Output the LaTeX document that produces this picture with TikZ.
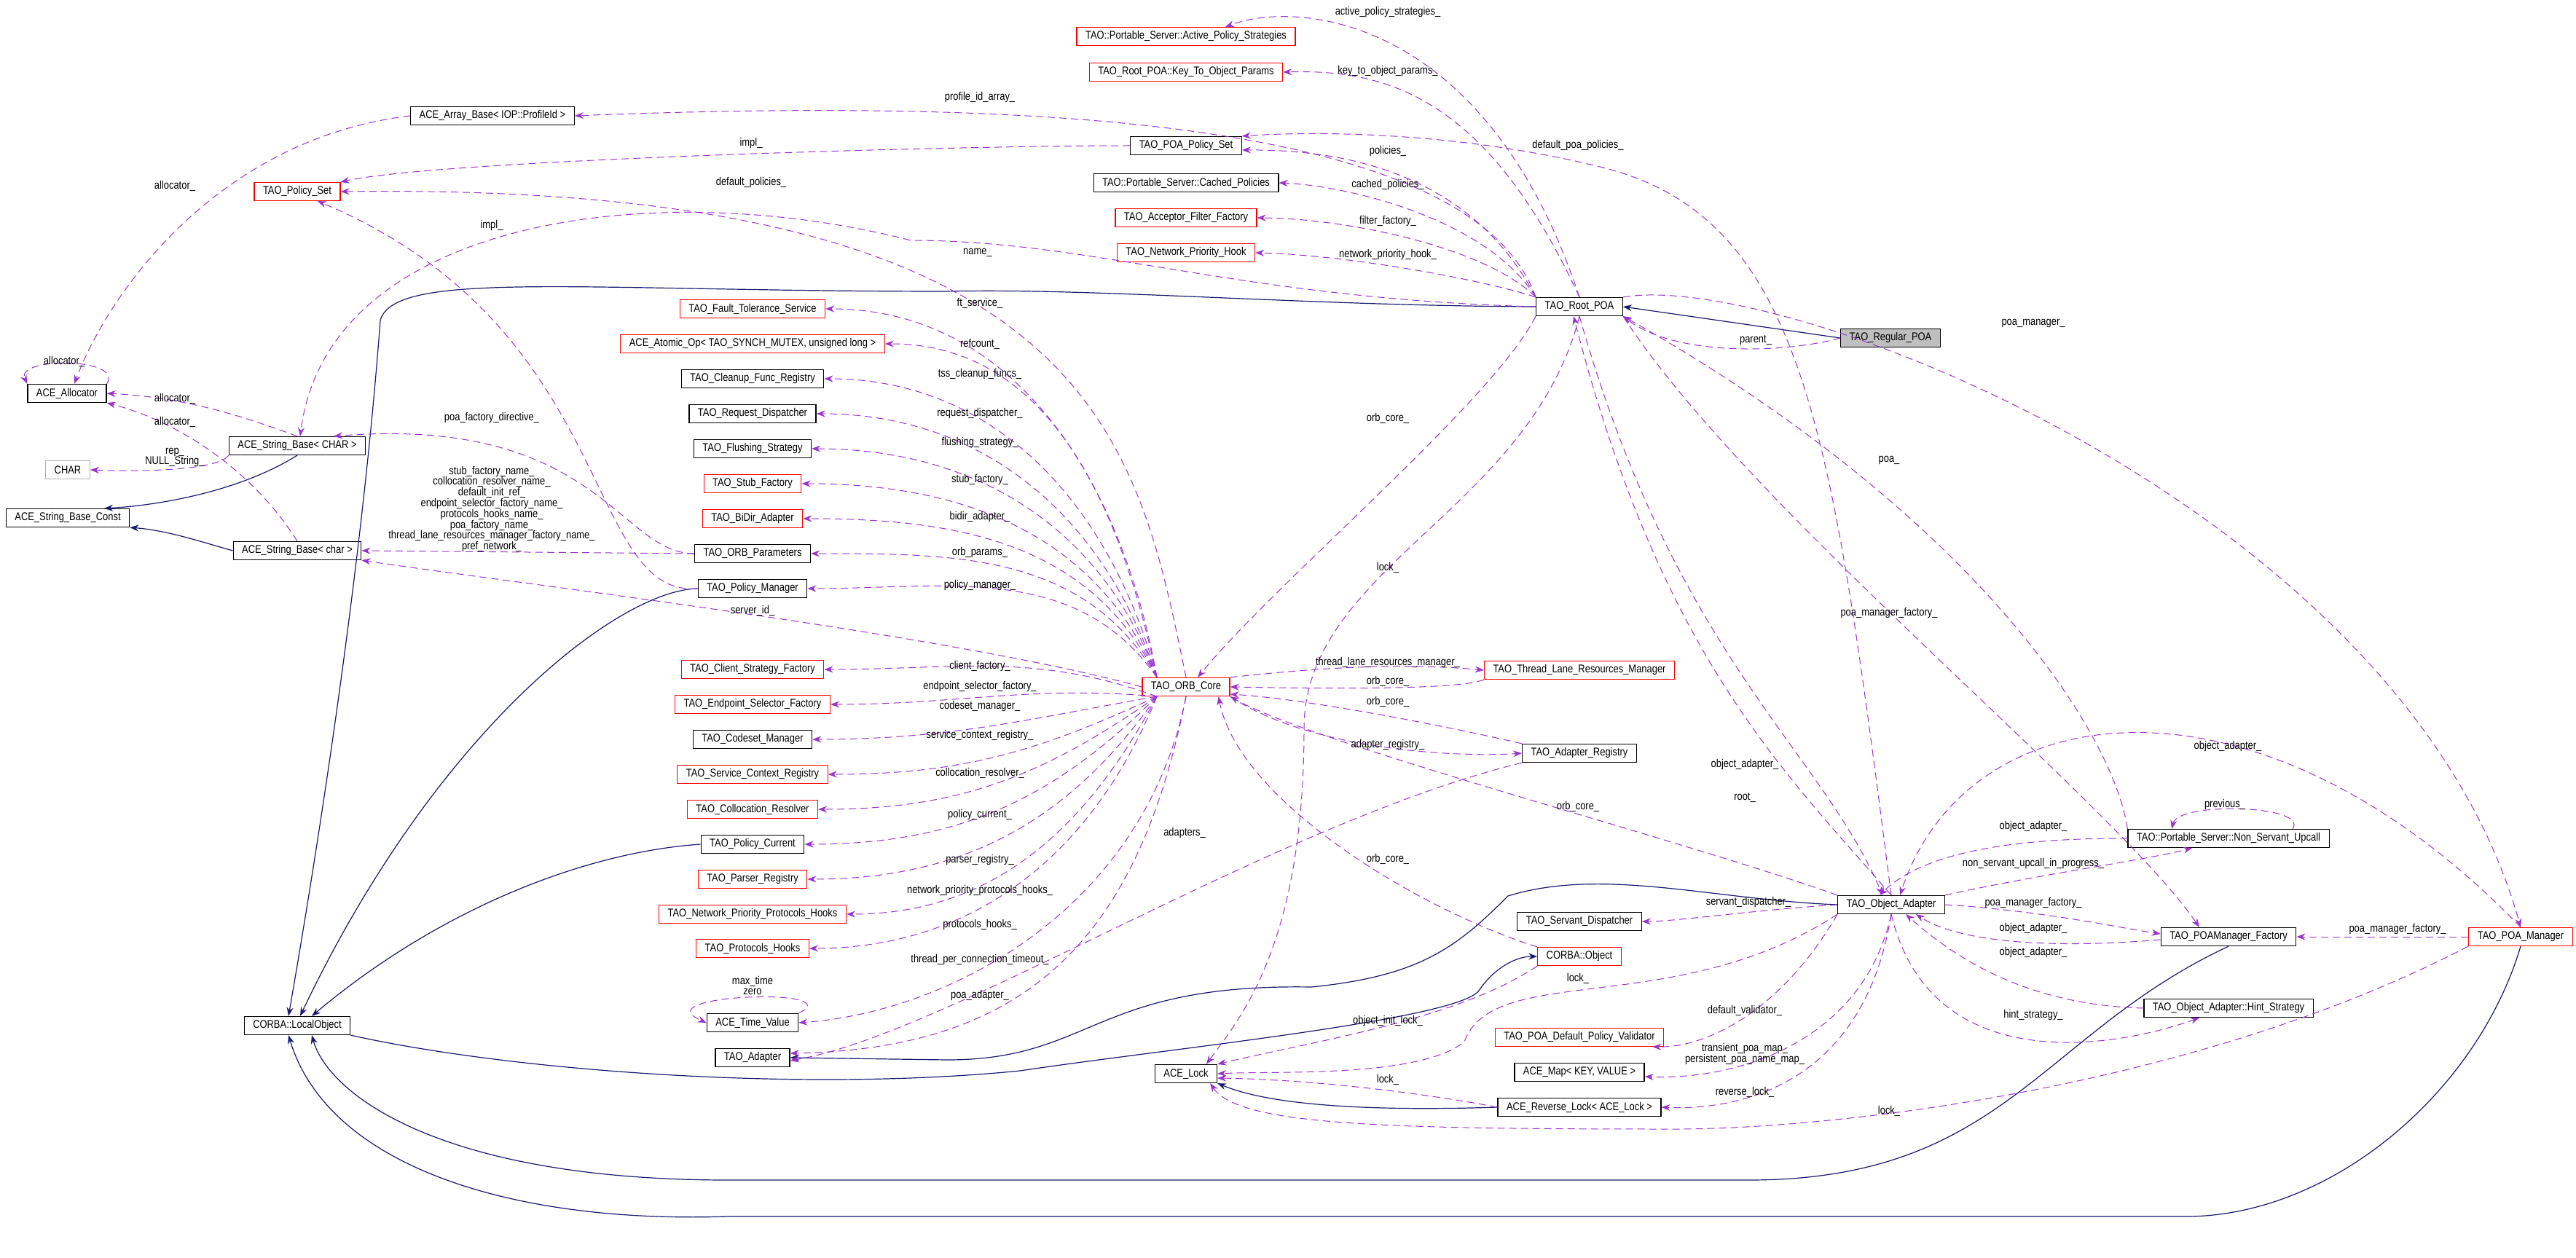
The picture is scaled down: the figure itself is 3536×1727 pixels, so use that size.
\documentclass[tikz,border=0pt]{standalone}
\usepackage{fontspec}
\setmainfont{Liberation Sans}[FakeStretch=0.84]
\usetikzlibrary{arrows.meta}
\definecolor{pu}{HTML}{9A32CD}
\definecolor{nv}{HTML}{191970}
\tikzset{
 box/.style={draw=black,line width=0.6pt,minimum height=12.5pt,inner xsep=6pt,inner ysep=0pt,font=\fontsize{7.7}{8}\selectfont,fill=white},
 rbox/.style={box,draw=red},
 gbox/.style={box,fill=black!25},
 cbox/.style={box,draw=black!30},
 lbl/.style={inner sep=0pt,align=center,font=\fontsize{7.7}{7.4}\selectfont},
 dep/.style={draw=pu,dash pattern=on 5pt off 3pt,line width=0.5pt,-{Stealth[length=6pt,width=4.5pt,fill=pu]}},
 inh/.style={draw=nv,line width=0.6pt,-{Stealth[length=6pt,width=4.5pt,fill=nv]}},
}
\newcommand\elab[4]{\node[lbl] (#1) at (#2,#3) {#4};}
\begin{document}
\begin{tikzpicture}[x=0.5pt,y=-0.5pt]
\useasboundingbox[fill=white] (0,0) rectangle (3536,1727);
% nodes
\node[gbox] (regular) at (2595,464) {TAO\_Regular\_POA};
\node[box] (root) at (2168,421) {TAO\_Root\_POA};
\node[rbox] (aps) at (1628,50) {TAO::Portable\_Server::Active\_Policy\_Strategies};
\node[rbox] (ktop) at (1628,99) {TAO\_Root\_POA::Key\_To\_Object\_Params};
\node[box] (arrb) at (676,159) {ACE\_Array\_Base< IOP::ProfileId >};
\node[box] (poaps) at (1628,200) {TAO\_POA\_Policy\_Set};
\node[rbox] (pset) at (408,263) {TAO\_Policy\_Set};
\node[box] (cached) at (1628,251) {TAO::Portable\_Server::Cached\_Policies};
\node[rbox] (aff) at (1628,299) {TAO\_Acceptor\_Filter\_Factory};
\node[rbox] (nph) at (1628,347) {TAO\_Network\_Priority\_Hook};
\node[rbox] (fts) at (1033,424) {TAO\_Fault\_Tolerance\_Service};
\node[rbox] (atomic) at (1033,472) {ACE\_Atomic\_Op< TAO\_SYNCH\_MUTEX, unsigned long >};
\node[box] (cleanup) at (1033,520) {TAO\_Cleanup\_Func\_Registry};
\node[box] (reqd) at (1033,568) {TAO\_Request\_Dispatcher};
\node[box] (flush) at (1033,616) {TAO\_Flushing\_Strategy};
\node[rbox] (stubf) at (1033,664) {TAO\_Stub\_Factory};
\node[rbox] (bidir) at (1033,712) {TAO\_BiDir\_Adapter};
\node[box] (orbp) at (1033,760) {TAO\_ORB\_Parameters};
\node[box] (polm) at (1033,808) {TAO\_Policy\_Manager};
\node[box] (alloc) at (92,540) {ACE\_Allocator};
\node[box] (sbCHAR) at (408,612) {ACE\_String\_Base< CHAR >};
\node[cbox] (char) at (93,645) {CHAR};
\node[box] (sbconst) at (93,711) {ACE\_String\_Base\_Const};
\node[box] (sbchar) at (408,756) {ACE\_String\_Base< char >};
\node[rbox] (csf) at (1033,919) {TAO\_Client\_Strategy\_Factory};
\node[rbox] (esf) at (1033,967) {TAO\_Endpoint\_Selector\_Factory};
\node[box] (codeset) at (1033,1015) {TAO\_Codeset\_Manager};
\node[rbox] (scr) at (1033,1063) {TAO\_Service\_Context\_Registry};
\node[rbox] (colres) at (1033,1111) {TAO\_Collocation\_Resolver};
\node[box] (polc) at (1033,1159) {TAO\_Policy\_Current};
\node[rbox] (parser) at (1033,1207) {TAO\_Parser\_Registry};
\node[rbox] (npph) at (1033,1255) {TAO\_Network\_Priority\_Protocols\_Hooks};
\node[rbox] (proth) at (1033,1302) {TAO\_Protocols\_Hooks};
\node[box] (timev) at (1033,1404) {ACE\_Time\_Value};
\node[box] (adapter) at (1033,1452) {TAO\_Adapter};
\node[box] (local) at (408,1408) {CORBA::LocalObject};
\node[rbox] (orbcore) at (1628,943) {TAO\_ORB\_Core};
\node[rbox] (tlrm) at (2168,920) {TAO\_Thread\_Lane\_Resources\_Manager};
\node[box] (areg) at (2168,1034) {TAO\_Adapter\_Registry};
\node[box] (sdisp) at (2168,1265) {TAO\_Servant\_Dispatcher};
\node[rbox] (cobj) at (2168,1313) {CORBA::Object};
\node[rbox] (pdpv) at (2168,1424) {TAO\_POA\_Default\_Policy\_Validator};
\node[box] (map) at (2168,1472) {ACE\_Map< KEY, VALUE >};
\node[box] (rlock) at (2168,1520) {ACE\_Reverse\_Lock< ACE\_Lock >};
\node[box] (acelock) at (1628,1474) {ACE\_Lock};
\node[box] (oa) at (2596,1242) {TAO\_Object\_Adapter};
\node[box] (nsu) at (3059,1151) {TAO::Portable\_Server::Non\_Servant\_Upcall};
\node[box] (pmf) at (3059,1286) {TAO\_POAManager\_Factory};
\node[box] (hint) at (3059,1384) {TAO\_Object\_Adapter::Hint\_Strategy};
\node[rbox] (poam) at (3460,1286) {TAO\_POA\_Manager};

% inheritance
\draw[inh] (regular.west) -- (root.east);
\draw[inh] (root.west) .. controls (1800,420) and (1500,395) .. (1300,400) .. controls (800,400) and (540,370) .. (522,440) .. controls (495,800) and (430,1200) .. ([xshift=-6pt]local.north);
\draw[inh] (polm.west) .. controls (850,810) and (600,1000) .. ([xshift=2pt]local.north);
\draw[inh] (polc.west) .. controls (800,1170) and (600,1250) .. ([xshift=10pt]local.north);
\draw[inh] (local.south east) .. controls (700,1470) and (1100,1500) .. (1400,1470) .. controls (1600,1440) and (2000,1400) .. (2030,1360) .. controls (2050,1330) and (2080,1313) .. (cobj.west);
\draw[inh] (oa.west) .. controls (2350,1235) and (2200,1190) .. (2070,1230) .. controls (2000,1300) and (1950,1340) .. (1800,1355) .. controls (1500,1350) and (1500,1455) .. (1300,1455) -- (adapter.east);
\draw[inh] (rlock.west) .. controls (1900,1525) and (1750,1520) .. (acelock.south east);
\draw[inh] (sbCHAR.south) .. controls (320,680) and (200,695) .. ([xshift=25pt]sbconst.north);
\draw[inh] (sbchar.west) .. controls (280,745) and (230,728) .. (sbconst.south east);
\draw[inh] (pmf.south) .. controls (2800,1420) and (2750,1620) .. (2400,1620) -- (1000,1620) .. controls (600,1620) and (450,1500) .. ([xshift=10pt]local.south);
\draw[inh] (poam.south) .. controls (3400,1500) and (3200,1670) .. (3000,1670) -- (1000,1670) .. controls (700,1680) and (450,1600) .. ([xshift=-6pt]local.south);

% Root POA deps
\draw[dep] (regular.west) .. controls (2450,485) and (2300,490) .. (root.south east);
\draw[dep] (root.north) .. controls (2040,20) and (1780,0) .. ([xshift=27pt]aps.north);
\draw[dep] (root.north) .. controls (2040,130) and (1900,95) .. (ktop.east);
\draw[dep] (root.north west) .. controls (2020,160) and (1400,135) .. (arrb.east);
\draw[dep] (root.north west) .. controls (2020,240) and (1850,205) .. ([yshift=-3pt]poaps.east);
\draw[dep] (root.north west) .. controls (2040,300) and (1850,255) .. (cached.east);
\draw[dep] (root.north west) .. controls (2040,340) and (1850,300) .. (aff.east);
\draw[dep] (root.north west) .. controls (2040,385) and (1850,350) .. (nph.east);
\draw[dep] (root.west) .. controls (1700,410) and (1500,330) .. (1250,330) .. controls (900,240) and (450,300) .. ([xshift=2pt]sbCHAR.north);
\draw[dep] (root.south west) .. controls (2050,550) and (1750,800) .. ([xshift=8pt]orbcore.north);
\draw[dep] (root.south) .. controls (2100,700) and (1790,780) .. (1790,1000) .. controls (1790,1300) and (1700,1400) .. ([xshift=14pt]acelock.north);
\draw[dep] (root.north east) .. controls (2450,370) and (3300,700) .. (poam.north);
\draw[dep] (root.south) .. controls (2300,900) and (2500,1030) .. ([xshift=-6pt]oa.north);
\draw[dep] (oa.north) .. controls (2450,1060) and (2280,900) .. ([xshift=-4pt]root.south);
\draw[dep] (root.south east) .. controls (2400,700) and (2900,1100) .. ([xshift=-20pt]pmf.north);
\draw[dep] (nsu.north west) .. controls (2900,1000) and (2700,700) .. (root.south east);
\draw[dep] (oa.north) .. controls (2515,600) and (2480,300) .. (2200,230) .. controls (2000,180) and (1800,180) .. (poaps.north east);

% left cluster
\draw[dep] (arrb.west) .. controls (300,190) and (150,400) .. ([xshift=5pt]alloc.north);
\draw[dep] (alloc.north east) .. controls (170,490) and (20,490) .. (alloc.north west);
\draw[dep] (sbCHAR.north) .. controls (330,570) and (250,545) .. (alloc.east);
\draw[dep] (sbchar.north) .. controls (350,650) and (250,580) .. (alloc.south east);
\draw[dep] (sbCHAR.south west) .. controls (300,645) and (200,648) .. (char.east);
\draw[dep] (polm.west) .. controls (800,820) and (850,450) .. ([xshift=14pt]pset.south);
\draw[dep] (poaps.west) .. controls (1300,200) and (600,220) .. (pset.north east);
\draw[dep] (orbcore.north) .. controls (1560,600) and (1500,250) .. (pset.east);
\draw[dep] (orbp.west) .. controls (850,760) and (820,570) .. ([xshift=25pt]sbCHAR.north);
\draw[dep] (orbp.west) -- (sbchar.east);
\draw[dep] (orbcore.west) .. controls (1300,870) and (700,800) .. (sbchar.south east);

% ORB core fan
\foreach \t/\o in {fts/100,atomic/102,cleanup/105,reqd/108,flush/110,stubf/113,bidir/116,orbp/120,polm/125}
  \draw[dep] ([xshift=-20pt]orbcore.north) to[out=\o,in=0] (\t.east);
\foreach \t/\o in {csf/160,esf/175,codeset/190,scr/205,colres/215,polc/225,parser/235,npph/242,proth/248}
  \draw[dep] ([xshift=-20pt]orbcore.south) to[out=\o,in=0] (\t.east);
\draw[dep] (orbcore.south) .. controls (1570,1250) and (1300,1390) .. (timev.east);
\draw[dep] (orbcore.south) .. controls (1560,1300) and (1400,1440) .. ([yshift=3pt]adapter.east);
\draw[dep] (timev.north east) .. controls (1170,1355) and (880,1365) .. (timev.west);
\draw[dep] (orbcore.south east) .. controls (1800,1030) and (2000,1040) .. (areg.west);
\draw[dep] (areg.north west) .. controls (2000,1000) and (1800,960) .. ([yshift=-5pt]orbcore.east);
\draw[dep] (orbcore.north east) .. controls (1850,912) and (1950,912) .. (tlrm.west);
\draw[dep] (tlrm.south west) .. controls (2000,948) and (1800,945) .. (orbcore.east);
\draw[dep] (areg.south west) .. controls (1750,1130) and (1300,1420) .. ([yshift=-2pt]adapter.east);
\draw[dep] (cobj.north west) .. controls (1950,1250) and (1700,1100) .. ([xshift=-8pt]orbcore.south east);
\draw[dep] (oa.north west) .. controls (2300,1150) and (1800,1020) .. (orbcore.south east);
\draw[dep] (cobj.south west) .. controls (2000,1400) and (1800,1430) .. (acelock.north east);
\draw[dep] (oa.south west) .. controls (2300,1400) and (2050,1320) .. (2010,1430) .. controls (1950,1480) and (1750,1470) .. (acelock.east);
\draw[dep] (rlock.west) .. controls (1950,1500) and (1800,1482) .. ([yshift=-3pt]acelock.east);
\draw[dep] (poam.south west) .. controls (3000,1500) and (2500,1550) .. (2300,1550) .. controls (1900,1550) and (1700,1545) .. ([xshift=-5pt]acelock.south east);

% object adapter
\draw[dep] (oa.west) .. controls (2400,1250) and (2300,1265) .. (sdisp.east);
\draw[dep] (oa.south west) .. controls (2450,1380) and (2350,1438) .. ([xshift=-8pt]pdpv.south east);
\draw[dep] (oa.south) .. controls (2560,1420) and (2400,1483) .. ([yshift=-3pt]map.east);
\draw[dep] (oa.south) .. controls (2560,1480) and (2400,1525) .. (rlock.east);
\draw[dep] (oa.north east) .. controls (2800,1200) and (2950,1180) .. ([xshift=-25pt]nsu.south);
\draw[dep] (nsu.west) .. controls (2700,1150) and (2620,1190) .. ([xshift=-8pt]oa.north);
\draw[dep] ([xshift=44pt]nsu.north) .. controls (3170,1105) and (2990,1100) .. ([xshift=-39pt]nsu.north);
\draw[dep] (poam.north) .. controls (3100,900) and (2700,950) .. ([xshift=6pt]oa.north);
\draw[dep] (oa.east) .. controls (2800,1250) and (2900,1272) .. ([yshift=2pt]pmf.west);
\draw[dep] ([yshift=-2pt]pmf.west) .. controls (2850,1300) and (2700,1300) .. ([xshift=-20pt]oa.south east);
\draw[dep] (hint.west) .. controls (2800,1380) and (2700,1330) .. ([xshift=10pt]oa.south);
\draw[dep] (oa.south) .. controls (2650,1480) and (2900,1440) .. ([xshift=-20pt]hint.south);
\draw[dep] (poam.west) -- (pmf.east);

% labels
\elab{l1}{1905}{17}{active\_policy\_strategies\_}
\elab{l2}{1905}{98}{key\_to\_object\_params\_}
\elab{l3}{1345}{134}{profile\_id\_array\_}
\elab{l4}{1031}{197}{impl\_}
\elab{l5}{2166}{200}{default\_poa\_policies\_}
\elab{l6}{1905}{208}{policies\_}
\elab{l7}{1031}{251}{default\_policies\_}
\elab{l8}{1905}{254}{cached\_policies\_}
\elab{l9}{240}{255}{allocator\_}
\elab{l10}{1905}{304}{filter\_factory\_}
\elab{l11}{675}{310}{impl\_}
\elab{l12}{1342}{347}{name\_}
\elab{l13}{1905}{350}{network\_priority\_hook\_}
\elab{l14}{1345}{416}{ft\_service\_}
\elab{l15}{2791}{444}{poa\_manager\_}
\elab{l16}{2410}{467}{parent\_}
\elab{l17}{1345}{472}{refcount\_}
\elab{l18}{88}{496}{allocator\_}
\elab{l19}{1345}{514}{tss\_cleanup\_funcs\_}
\elab{l20}{240}{547}{allocator\_}
\elab{l21}{1345}{568}{request\_dispatcher\_}
\elab{l22}{675}{574}{poa\_factory\_directive\_}
\elab{l23}{1905}{574}{orb\_core\_}
\elab{l24}{240}{579}{allocator\_}
\elab{l25}{1345}{608}{flushing\_strategy\_}
\elab{l26}{240}{628}{rep\_\\NULL\_String\_}
\elab{l27}{2593}{632}{poa\_}
\elab{l28}{1345}{659}{stub\_factory\_}
\elab{l29}{675}{699}{stub\_factory\_name\_\\collocation\_resolver\_name\_\\default\_init\_ref\_\\endpoint\_selector\_factory\_name\_\\protocols\_hooks\_name\_\\poa\_factory\_name\_\\thread\_lane\_resources\_manager\_factory\_name\_\\pref\_network\_}
\elab{l30}{1345}{710}{bidir\_adapter\_}
\elab{l31}{1345}{759}{orb\_params\_}
\elab{l32}{1905}{779}{lock\_}
\elab{l33}{1345}{804}{policy\_manager\_}
\elab{l34}{1033}{838}{server\_id\_}
\elab{l35}{2593}{842}{poa\_manager\_factory\_}
\elab{l36}{1905}{910}{thread\_lane\_resources\_manager\_}
\elab{l37}{1345}{915}{client\_factory\_}
\elab{l38}{1905}{935}{orb\_core\_}
\elab{l39}{1345}{943}{endpoint\_selector\_factory\_}
\elab{l40}{1905}{963}{orb\_core\_}
\elab{l41}{1345}{970}{codeset\_manager\_}
\elab{l42}{1345}{1010}{service\_context\_registry\_}
\elab{l43}{1905}{1023}{adapter\_registry\_}
\elab{l44}{3058}{1025}{object\_adapter\_}
\elab{l45}{2395}{1050}{object\_adapter\_}
\elab{l46}{1345}{1061}{collocation\_resolver\_}
\elab{l47}{2395}{1095}{root\_}
\elab{l48}{3054}{1105}{previous\_}
\elab{l49}{2166}{1107}{orb\_core\_}
\elab{l50}{1345}{1119}{policy\_current\_}
\elab{l51}{2791}{1135}{object\_adapter\_}
\elab{l52}{1626}{1144}{adapters\_}
\elab{l53}{1905}{1179}{orb\_core\_}
\elab{l54}{1345}{1181}{parser\_registry\_}
\elab{l55}{2791}{1186}{non\_servant\_upcall\_in\_progress\_}
\elab{l56}{1345}{1223}{network\_priority\_protocols\_hooks\_}
\elab{l57}{2400}{1239}{servant\_dispatcher\_}
\elab{l58}{2791}{1240}{poa\_manager\_factory\_}
\elab{l59}{1345}{1270}{protocols\_hooks\_}
\elab{l60}{2791}{1275}{object\_adapter\_}
\elab{l61}{3291}{1276}{poa\_manager\_factory\_}
\elab{l62}{2791}{1308}{object\_adapter\_}
\elab{l63}{1345}{1318}{thread\_per\_connection\_timeout\_}
\elab{l64}{2166}{1343}{lock\_}
\elab{l65}{1033}{1353}{max\_time\\zero}
\elab{l66}{1345}{1367}{poa\_adapter\_}
\elab{l67}{2395}{1387}{default\_validator\_}
\elab{l68}{2791}{1394}{hint\_strategy\_}
\elab{l69}{1905}{1402}{object\_init\_lock\_}
\elab{l70}{2395}{1447}{transient\_poa\_map\_\\persistent\_poa\_name\_map\_}
\elab{l71}{1905}{1482}{lock\_}
\elab{l72}{2395}{1499}{reverse\_lock\_}
\elab{l73}{2593}{1525}{lock\_}
\end{tikzpicture}
\end{document}
